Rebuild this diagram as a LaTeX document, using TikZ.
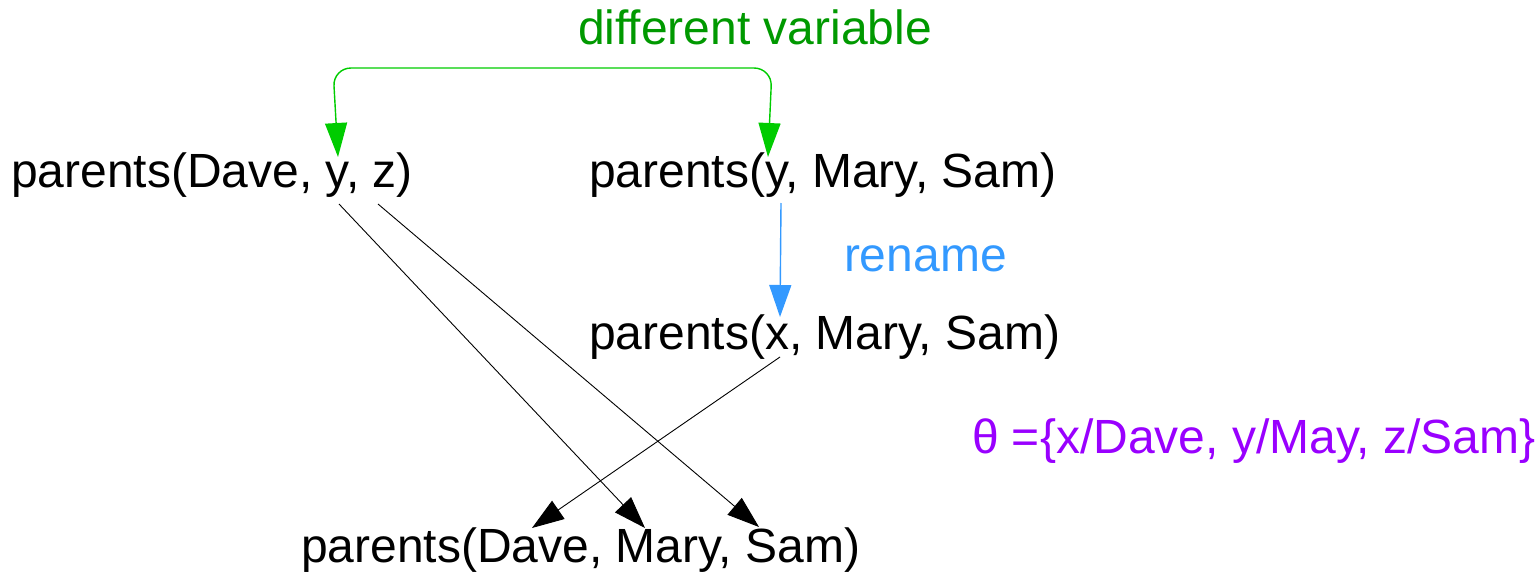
\documentclass[tikz,border=0pt]{standalone}
\usepackage{fontspec}
\setmainfont{Liberation Sans}
\usetikzlibrary{arrows.meta}
\definecolor{lblgreen}{RGB}{0,153,0}
\definecolor{arrgreen}{RGB}{0,204,0}
\definecolor{renblue}{RGB}{51,153,255}
\definecolor{thpurple}{RGB}{153,0,255}
\tikzset{
  term/.style={anchor=base west, inner sep=0pt, outer sep=0pt,
    font=\fontsize{48}{57}\selectfont},
  tip/.style={-{Triangle[length=32pt,width=22pt]}},
  unify/.style={tip, black, line width=0.9pt},
  varlink/.style={{Triangle[length=34pt,width=22pt]}-{Triangle[length=34pt,width=22pt]},
    arrgreen, line width=1.4pt, rounded corners=18pt},
  renlink/.style={tip, renblue, line width=1.4pt}
}
\begin{document}
\begin{tikzpicture}[x=1pt,y=-1pt]
\useasboundingbox (0,0) rectangle (1540,573);

% terms
\node[term] (q1) at (11,187) {parents(Dave, y, z)};
\node[term] (q2) at (589,187) {parents(y, Mary, Sam)};
\node[term] (q3) at (589,349) {parents(x, Mary, Sam)};
\node[term] (res) at (301,562) {parents(Dave, Mary, Sam)};

% labels
\node[term, text=lblgreen] (lblvar) at (578,44) {different variable};
\node[term, text=renblue] (lblren) at (844,271) {rename};
\node[term, text=thpurple] (theta) at (972,453) {θ =\{x/Dave, y/May, z/Sam\}};

% connector end points on the variables
\coordinate (q1y) at (338,157);
\coordinate (q2y) at (768,157);
\coordinate (q2yb) at (781,203);
\coordinate (q3xt) at (780,317);
\coordinate (q1yb) at (339,204);
\coordinate (q1zb) at (378,204);
\coordinate (q3xb) at (780,357);
\coordinate (resD) at (532,528);
\coordinate (resM) at (645,528);
\coordinate (resS) at (759,527);

% same variable name in both terms
\draw[varlink] (q1y) -- (333,68) -- (772,68) -- (q2y);

% renaming step
\draw[renlink] (q2yb) -- (q3xt);

% substitution arrows
\draw[unify] (q1yb) -- (resM);
\draw[unify] (q1zb) -- (resS);
\draw[unify] (q3xb) -- (resD);
\end{tikzpicture}
\end{document}
